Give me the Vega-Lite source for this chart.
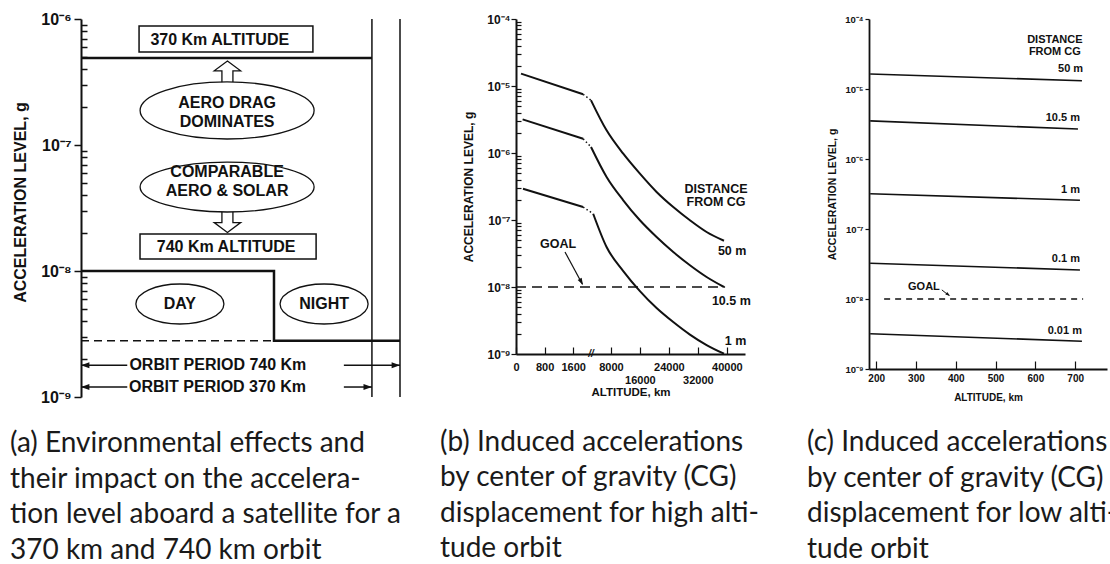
{
  "$schema": "https://vega.github.io/schema/vega-lite/v6.json",
  "padding": {"left": 10, "top": 11, "right": 0, "bottom": 0},
  "background": "white",
  "config": {
    "view": {"stroke": null},
    "axis": {"grid": false, "domainColor": "#111", "tickColor": "#111", "labelColor": "#111", "titleColor": "#111", "labelFont": "Liberation Sans", "titleFont": "Liberation Sans", "labelFontWeight": "bold", "titleFontWeight": "bold", "labelOverlap": false, "labelFlush": false},
    "title": {"font": "Lato", "fontSize": 28, "fontWeight": "normal", "color": "#1a1a1a", "lineHeight": 35.5, "baseline": "alphabetic", "anchor": "start", "frame": "bounds", "orient": "bottom", "align": "left"}
  },
  "spacing": 47,
  "hconcat": [
    {
      "spacing": 35,
      "hconcat": [
        {
          "width": 319,
          "height": 378,
          "title": {"text": ["(a) Environmental effects and", "their impact on the accelera-", "tion level aboard a satellite for a", "370 km and 740 km orbit"], "offset": 25, "dx": -2},
          "resolve": {"scale": {"shape": "independent"}},
          "encoding": {
            "x": {"field": "x", "type": "quantitative", "scale": {"domain": [0, 100], "nice": false, "zero": false}, "axis": null},
            "y": {"field": "y", "type": "quantitative", "scale": {"type": "log", "domain": [1e-9, 1e-6], "nice": false},
              "axis": {
                "values": [1e-9, 2e-9, 3e-9, 4e-9, 5e-9, 6e-9, 7e-9, 8e-9, 9e-9, 1e-8, 2e-8, 3e-8, 4e-8, 5e-8, 6e-8, 7e-8, 8e-8, 9e-8, 1e-7, 2e-7, 3e-7, 4e-7, 5e-7, 6e-7, 7e-7, 8e-7, 9e-7, 1e-6],
                "labelExpr": "abs(log(datum.value)/LN10 - round(log(datum.value)/LN10)) < 0.01 ? '10⁻' + ['⁰','¹','²','³','⁴','⁵','⁶','⁷','⁸','⁹'][round(-log(datum.value)/LN10)] : ''",
                "tickSize": {"condition": {"test": "abs(log(datum.value)/LN10 - round(log(datum.value)/LN10)) < 0.01", "value": 7}, "value": -6},
                "labelPadding": 3,
                "tickWidth": 1.5,
                "domainWidth": 2,
                "labelFontSize": 16,
                "title": "ACCELERATION LEVEL, g",
                "titleFontSize": 16,
                "titleX": -61,
                "titleY": 183,
                "titleBaseline": "middle"
              }
            }
          },
          "layer": [
            {"data": {"values": [{"x": 91.2, "y": 1e-9, "y2": 1e-6}, {"x": 100, "y": 1e-9, "y2": 1e-6}]},
             "mark": {"type": "rule", "strokeWidth": 1.5, "color": "#111"},
             "encoding": {"y2": {"field": "y2"}}},
            {"data": {"values": [{"x": 0, "x2": 60.5, "y": 2.8e-9}]},
             "mark": {"type": "rule", "strokeWidth": 1.5, "strokeDash": [8, 5], "color": "#111"},
             "encoding": {"x2": {"field": "x2"}}},
            {"data": {"values": [
              {"s": "370", "i": 0, "x": 0, "y": 4.9e-7}, {"s": "370", "i": 1, "x": 91.2, "y": 4.9e-7},
              {"s": "740", "i": 0, "x": 0, "y": 1e-8}, {"s": "740", "i": 1, "x": 60.5, "y": 1e-8},
              {"s": "740", "i": 2, "x": 60.5, "y": 2.8e-9}, {"s": "740", "i": 3, "x": 100, "y": 2.8e-9}]},
             "mark": {"type": "line", "strokeWidth": 2.5, "color": "#111"},
             "encoding": {"detail": {"field": "s"}, "order": {"field": "i", "type": "quantitative"}}},
            {"data": {"values": [{"k": "up", "x": 45.9, "y": 3.8e-7}, {"k": "down", "x": 45.9, "y": 2.47e-8}]},
             "mark": {"type": "point", "filled": true, "fill": "white", "stroke": "#111", "strokeWidth": 1.3, "size": 484, "opacity": 1},
             "encoding": {"shape": {"field": "k", "type": "nominal", "legend": null,
               "scale": {"domain": ["up", "down"], "range": ["M 0 -1 L 1.2 -0.1 L 0.5 -0.1 L 0.5 1.1 L -0.5 1.1 L -0.5 -0.1 L -1.2 -0.1 Z", "M 0 1 L 1.2 0.1 L 0.5 0.1 L 0.5 -1.1 L -0.5 -1.1 L -0.5 0.1 L -1.2 0.1 Z"]}}}},
            {"data": {"values": [{"k": "aero", "x": 45.8, "y": 1.88e-7}, {"k": "comp", "x": 45.8, "y": 4.64e-8}, {"k": "small", "x": 31.0, "y": 5.47e-9}, {"k": "small", "x": 76.2, "y": 5.47e-9}]},
             "mark": {"type": "point", "filled": true, "fill": "white", "stroke": "#111", "strokeWidth": 1.3, "size": 30276, "opacity": 1},
             "encoding": {"shape": {"field": "k", "type": "nominal", "legend": null,
               "scale": {"domain": ["aero", "comp", "small"], "range": [
                 "M -1 0 C -1 -0.1811 -0.5523 -0.328 0 -0.328 C 0.5523 -0.328 1 -0.1811 1 0 C 1 0.1811 0.5523 0.328 0 0.328 C -0.5523 0.328 -1 0.1811 -1 0 Z",
                 "M -1 0 C -1 -0.1585 -0.5523 -0.287 0 -0.287 C 0.5523 -0.287 1 -0.1585 1 0 C 1 0.1585 0.5523 0.287 0 0.287 C -0.5523 0.287 -1 0.1585 -1 0 Z",
                 "M -0.506 0 C -0.506 -0.127 -0.2795 -0.23 0 -0.23 C 0.2795 -0.23 0.506 -0.127 0.506 0 C 0.506 0.127 0.2795 0.23 0 0.23 C -0.2795 0.23 -0.506 0.127 -0.506 0 Z"]}}}},
            {"data": {"values": [{"x": 18.2, "x2": 72.7, "y": 8.8e-7, "y2": 5.47e-7}, {"x": 18.5, "x2": 73.7, "y": 1.97e-8, "y2": 1.245e-8}]},
             "mark": {"type": "rect", "fill": "white", "stroke": "#111", "strokeWidth": 1.5},
             "encoding": {"x2": {"field": "x2"}, "y2": {"field": "y2"}}},
            {"data": {"values": [{"x": 0, "x2": 14.5, "y": 1.79e-9}, {"x": 82.4, "x2": 100, "y": 1.79e-9}, {"x": 0, "x2": 14.5, "y": 1.2e-9}, {"x": 82.4, "x2": 91.2, "y": 1.2e-9}]},
             "mark": {"type": "rule", "strokeWidth": 1.5, "color": "#111"},
             "encoding": {"x2": {"field": "x2"}}},
            {"data": {"values": [{"k": "left", "x": 0, "y": 1.79e-9}, {"k": "right", "x": 100, "y": 1.79e-9}, {"k": "left", "x": 0, "y": 1.2e-9}, {"k": "right", "x": 91.2, "y": 1.2e-9}]},
             "mark": {"type": "point", "filled": true, "color": "#111", "size": 144, "opacity": 1},
             "encoding": {"shape": {"field": "k", "type": "nominal", "legend": null,
               "scale": {"domain": ["left", "right"], "range": ["M 0 0 L 1.4 -0.5 L 1.4 0.5 Z", "M 0 0 L -1.4 -0.5 L -1.4 0.5 Z"]}}}},
            {"data": {"values": [
              {"t": "370 Km ALTITUDE", "x": 43.5, "y": 6.81e-7},
              {"t": "AERO DRAG", "x": 45.8, "y": 2.15e-7},
              {"t": "DOMINATES", "x": 45.8, "y": 1.52e-7},
              {"t": "COMPARABLE", "x": 45.8, "y": 6.1e-8},
              {"t": "AERO & SOLAR", "x": 45.8, "y": 4.31e-8},
              {"t": "740 Km ALTITUDE", "x": 45.5, "y": 1.55e-8},
              {"t": "DAY", "x": 31.0, "y": 5.47e-9},
              {"t": "NIGHT", "x": 76.2, "y": 5.47e-9},
              {"t": "ORBIT PERIOD 740 Km", "x": 42.9, "y": 1.79e-9},
              {"t": "ORBIT PERIOD 370 Km", "x": 42.8, "y": 1.2e-9}]},
             "mark": {"type": "text", "font": "Liberation Sans", "fontWeight": "bold", "fontSize": 16, "color": "#111", "baseline": "middle"},
             "encoding": {"text": {"field": "t"}}}
          ]
        },
        {
          "width": 229,
          "height": 335,
          "title": {"text": ["(b) Induced accelerations", "by center of gravity (CG)", "displacement for high alti-", "tude orbit"], "offset": 31, "dx": -22},
          "encoding": {
            "x": {"field": "x", "type": "quantitative", "scale": {"domain": [0, 2100, 2500, 45000], "range": [0, 75, 75, 229], "nice": false, "zero": false},
              "axis": {"values": [0, 800, 1600, 8000, 16000, 24000, 32000, 40000], "format": "d", "tickSize": -7, "tickWidth": 1.2, "domainWidth": 2,
                "labelPadding": {"condition": {"test": "datum.value == 16000 || datum.value == 32000", "value": 27}, "value": 14},
                "labelFontSize": 11, "title": "ALTITUDE, km", "titleFontSize": 11.5, "titleY": 38, "titleBaseline": "middle"}},
            "y": {"field": "y", "type": "quantitative", "scale": {"type": "log", "domain": [1e-9, 1e-4], "nice": false},
              "axis": {
                "values": [1e-9, 2e-9, 3e-9, 4e-9, 5e-9, 6e-9, 7e-9, 8e-9, 9e-9, 1e-8, 2e-8, 3e-8, 4e-8, 5e-8, 6e-8, 7e-8, 8e-8, 9e-8, 1e-7, 2e-7, 3e-7, 4e-7, 5e-7, 6e-7, 7e-7, 8e-7, 9e-7, 1e-6, 2e-6, 3e-6, 4e-6, 5e-6, 6e-6, 7e-6, 8e-6, 9e-6, 1e-5, 2e-5, 3e-5, 4e-5, 5e-5, 6e-5, 7e-5, 8e-5, 9e-5, 1e-4],
                "labelExpr": "abs(log(datum.value)/LN10 - round(log(datum.value)/LN10)) < 0.01 ? '10⁻' + ['⁰','¹','²','³','⁴','⁵','⁶','⁷','⁸','⁹'][round(-log(datum.value)/LN10)] : ''",
                "tickSize": {"condition": {"test": "abs(log(datum.value)/LN10 - round(log(datum.value)/LN10)) < 0.01", "value": 5}, "value": -5},
                "labelPadding": 1,
                "tickWidth": 1.2,
                "domainWidth": 2,
                "labelFontSize": 12,
                "title": "ACCELERATION LEVEL, g",
                "titleFontSize": 12,
                "titleX": -48,
                "titleBaseline": "middle"
              }
            }
          },
          "layer": [
            {"data": {"values": [{"x": 0, "x2": 39500, "y": 1e-8}]},
             "mark": {"type": "rule", "strokeWidth": 1.5, "strokeDash": [10, 6], "color": "#111"},
             "encoding": {"x2": {"field": "x2"}}},
            {"data": {"values": [
              {"d": "50 m", "seg": "L", "x": 140, "y": 1.53e-5}, {"d": "50 m", "seg": "L", "x": 1880, "y": 7.52e-6},
              {"d": "10.5 m", "seg": "L", "x": 185, "y": 3.18e-6}, {"d": "10.5 m", "seg": "L", "x": 1880, "y": 1.63e-6},
              {"d": "1 m", "seg": "L", "x": 195, "y": 2.93e-7}, {"d": "1 m", "seg": "L", "x": 1880, "y": 1.56e-7},
              {"d": "50 m", "seg": "R", "x": 2500, "y": 6.12e-6}, {"d": "50 m", "seg": "R", "x": 6800, "y": 2.18e-6}, {"d": "50 m", "seg": "R", "x": 11400, "y": 9.76e-7}, {"d": "50 m", "seg": "R", "x": 16000, "y": 4.91e-7}, {"d": "50 m", "seg": "R", "x": 20600, "y": 2.62e-7}, {"d": "50 m", "seg": "R", "x": 25200, "y": 1.56e-7}, {"d": "50 m", "seg": "R", "x": 29800, "y": 9.9e-8}, {"d": "50 m", "seg": "R", "x": 34400, "y": 6.62e-8}, {"d": "50 m", "seg": "R", "x": 39200, "y": 4.9e-8},
              {"d": "10.5 m", "seg": "R", "x": 2500, "y": 1.23e-6}, {"d": "10.5 m", "seg": "R", "x": 6800, "y": 4.39e-7}, {"d": "10.5 m", "seg": "R", "x": 11400, "y": 1.97e-7}, {"d": "10.5 m", "seg": "R", "x": 16000, "y": 9.9e-8}, {"d": "10.5 m", "seg": "R", "x": 20600, "y": 5.57e-8}, {"d": "10.5 m", "seg": "R", "x": 25200, "y": 3.33e-8}, {"d": "10.5 m", "seg": "R", "x": 29800, "y": 2.11e-8}, {"d": "10.5 m", "seg": "R", "x": 34400, "y": 1.41e-8}, {"d": "10.5 m", "seg": "R", "x": 39200, "y": 1.0e-8},
              {"d": "1 m", "seg": "R", "x": 3100, "y": 1.24e-7}, {"d": "1 m", "seg": "R", "x": 6800, "y": 3.95e-8}, {"d": "1 m", "seg": "R", "x": 11400, "y": 1.73e-8}, {"d": "1 m", "seg": "R", "x": 16000, "y": 8.7e-9}, {"d": "1 m", "seg": "R", "x": 20600, "y": 4.86e-9}, {"d": "1 m", "seg": "R", "x": 25200, "y": 3.0e-9}, {"d": "1 m", "seg": "R", "x": 29800, "y": 1.95e-9}, {"d": "1 m", "seg": "R", "x": 34400, "y": 1.36e-9}, {"d": "1 m", "seg": "R", "x": 39200, "y": 1.01e-9}]},
             "mark": {"type": "line", "strokeWidth": 2, "color": "#111", "interpolate": "monotone"},
             "encoding": {"detail": [{"field": "d"}, {"field": "seg"}]}},
            {"data": {"values": [
              {"d": "50 m", "x": 1880, "y": 7.52e-6}, {"d": "50 m", "x": 2500, "y": 6.12e-6},
              {"d": "10.5 m", "x": 1880, "y": 1.63e-6}, {"d": "10.5 m", "x": 2500, "y": 1.23e-6},
              {"d": "1 m", "x": 1880, "y": 1.56e-7}, {"d": "1 m", "x": 3100, "y": 1.24e-7}]},
             "mark": {"type": "line", "strokeWidth": 1.5, "strokeDash": [1.5, 2.5], "color": "#111"},
             "encoding": {"detail": {"field": "d"}}},
            {"data": {"values": [{"x": 1372, "y": 3.33e-8, "x2": 1860, "y2": 1.1e-8}]},
             "mark": {"type": "rule", "strokeWidth": 1.2, "color": "#111"},
             "encoding": {"x2": {"field": "x2"}, "y2": {"field": "y2"}}},
            {"data": {"values": [{"x": 1877, "y": 1.07e-8}]},
             "mark": {"type": "point", "filled": true, "color": "#111", "size": 100, "opacity": 1, "angle": 331, "shape": "M 0 0 L -0.45 -1.4 L 0.45 -1.4 Z"},
             "encoding": {}},
            {"data": {"values": [{"t": "DISTANCE", "x": 37000, "y": 2.9e-7}, {"t": "FROM CG", "x": 37000, "y": 1.86e-7}, {"t": "GOAL", "x": 1176, "y": 4.38e-8}]},
             "mark": {"type": "text", "font": "Liberation Sans", "fontWeight": "bold", "fontSize": 12.5, "color": "#111", "baseline": "middle", "align": "center"},
             "encoding": {"text": {"field": "t"}}},
            {"data": {"values": [{"t": "50 m", "x": 37515, "y": 3.44e-8}, {"t": "10.5 m", "x": 35861, "y": 6.18e-9}, {"t": "1 m", "x": 39445, "y": 1.56e-9}]},
             "mark": {"type": "text", "font": "Liberation Sans", "fontWeight": "bold", "fontSize": 12.5, "color": "#111", "baseline": "middle", "align": "left"},
             "encoding": {"text": {"field": "t"}}},
            {"data": {"values": [{"t": "//", "x": 2300, "y": 1e-9}]},
             "mark": {"type": "text", "font": "Liberation Sans", "fontWeight": "bold", "fontStyle": "italic", "fontSize": 10, "color": "#111", "baseline": "middle", "align": "center"},
             "encoding": {"text": {"field": "t"}}}
          ]
        }
      ]
    },
    {
      "width": 238,
      "height": 350,
      "title": {"text": ["(c) Induced accelerations", "by center of gravity (CG)", "displacement for low alti-", "tude orbit"], "offset": 27, "dx": -20},
      "encoding": {
        "x": {"field": "x", "type": "quantitative", "scale": {"domain": [182, 780], "nice": false, "zero": false},
          "axis": {"values": [200, 300, 400, 500, 600, 700], "tickSize": -8, "tickWidth": 1.2, "domainWidth": 1.8, "labelPadding": 12, "labelFontSize": 10,
            "title": "ALTITUDE, km", "titleFontSize": 10, "titleY": 28, "titleBaseline": "middle"}},
        "y": {"field": "y", "type": "quantitative", "scale": {"type": "log", "domain": [1e-9, 1e-4], "nice": false},
          "axis": {
            "values": [1e-9, 1e-8, 1e-7, 1e-6, 1e-5, 1e-4],
            "labelExpr": "'10⁻' + ['⁰','¹','²','³','⁴','⁵','⁶','⁷','⁸','⁹'][round(-log(datum.value)/LN10)]",
            "tickSize": 4, "labelPadding": 2, "tickWidth": 1.2, "domainWidth": 1.8, "labelFontSize": 9.5,
            "title": "ACCELERATION LEVEL, g", "titleFontSize": 10.5, "titleX": -37, "titleBaseline": "middle"
          }
        }
      },
      "layer": [
        {"data": {"values": [{"x": 220, "x2": 720, "y": 1e-8}]},
         "mark": {"type": "rule", "strokeWidth": 1.3, "strokeDash": [6, 5], "color": "#111"},
         "encoding": {"x2": {"field": "x2"}}},
        {"data": {"values": [
          {"d": "50 m", "x": 185, "y": 1.64e-5}, {"d": "50 m", "x": 717, "y": 1.31e-5},
          {"d": "10.5 m", "x": 185, "y": 3.5e-6}, {"d": "10.5 m", "x": 707, "y": 2.68e-6},
          {"d": "1 m", "x": 185, "y": 3.19e-7}, {"d": "1 m", "x": 712, "y": 2.57e-7},
          {"d": "0.1 m", "x": 185, "y": 3.24e-8}, {"d": "0.1 m", "x": 712, "y": 2.6e-8},
          {"d": "0.01 m", "x": 185, "y": 3.19e-9}, {"d": "0.01 m", "x": 717, "y": 2.49e-9}]},
         "mark": {"type": "line", "strokeWidth": 1.6, "color": "#111"},
         "encoding": {"detail": {"field": "d"}}},
        {"data": {"values": [{"x": 365, "y": 1.35e-8, "x2": 382, "y2": 1.13e-8}]},
         "mark": {"type": "rule", "strokeWidth": 1, "color": "#111"},
         "encoding": {"x2": {"field": "x2"}, "y2": {"field": "y2"}}},
        {"data": {"values": [{"x": 386, "y": 1.1e-8}]},
         "mark": {"type": "point", "filled": true, "color": "#111", "size": 49, "opacity": 1, "angle": 307, "shape": "M 0 0 L -0.45 -1.4 L 0.45 -1.4 Z"},
         "encoding": {}},
        {"data": {"values": [{"t": "DISTANCE", "x": 649, "y": 5.01e-5}, {"t": "FROM CG", "x": 649, "y": 3.38e-5}, {"t": "GOAL", "x": 320, "y": 1.48e-8}]},
         "mark": {"type": "text", "font": "Liberation Sans", "fontWeight": "bold", "fontSize": 11, "color": "#111", "baseline": "middle", "align": "center"},
         "encoding": {"text": {"field": "t"}}},
        {"data": {"values": [{"t": "50 m", "x": 720, "y": 1.93e-5}, {"t": "10.5 m", "x": 712, "y": 3.85e-6}, {"t": "1 m", "x": 712, "y": 3.61e-7}, {"t": "0.1 m", "x": 712, "y": 3.73e-8}, {"t": "0.01 m", "x": 717, "y": 3.49e-9}]},
         "mark": {"type": "text", "font": "Liberation Sans", "fontWeight": "bold", "fontSize": 11, "color": "#111", "baseline": "middle", "align": "right"},
         "encoding": {"text": {"field": "t"}}}
      ]
    }
  ]
}
